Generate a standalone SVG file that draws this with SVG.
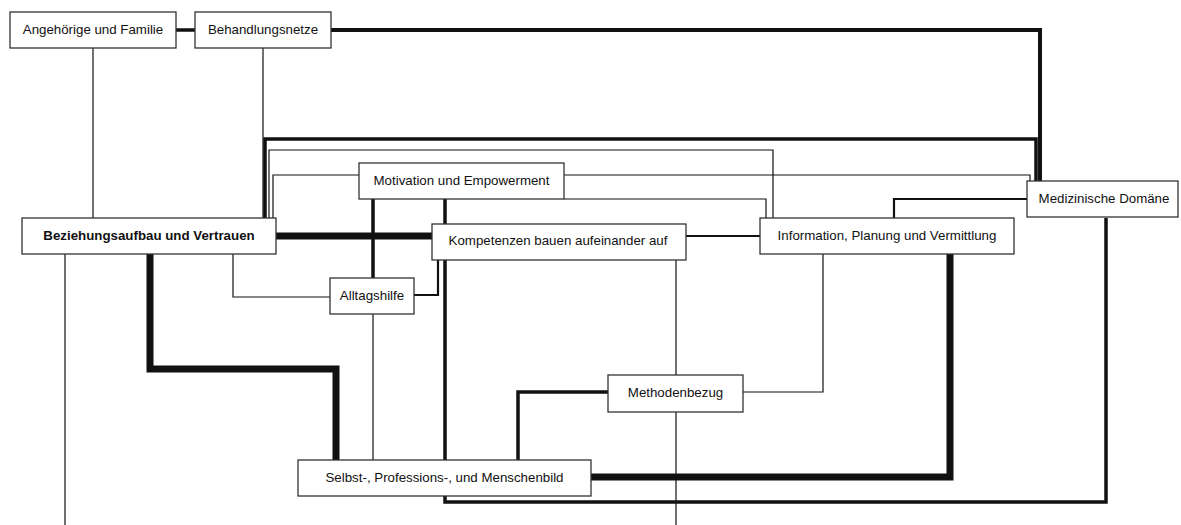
<svg xmlns="http://www.w3.org/2000/svg" width="1181" height="525" viewBox="0 0 1181 525">
<style>
.n rect{fill:#fff;stroke:#333;stroke-width:1.3}
.n text{font-family:"Liberation Sans",Arial,sans-serif;font-size:13.3px;fill:#111;text-anchor:middle}
.n text.b{font-weight:bold}
#edges path{fill:none;stroke:#111;stroke-linejoin:miter;stroke-linecap:butt}
.t1{stroke-width:1.2}
.t2{stroke-width:2.2}
.t3{stroke-width:3.5}
.t4{stroke-width:7}
</style>
<rect width="1181" height="525" fill="#fff"/>
<g id="edges">
<path class="t3" d="M176,30 H195"/>
<path class="t3" d="M331,30 H1040 V181" style="stroke-width:4"/>
<path class="t1" d="M93,48 V218"/>
<path class="t1" d="M263,48 V218"/>
<path class="t3" d="M265,218 V139 H1036 V181"/>
<path class="t1" d="M269,218 V150 H773 V218"/>
<path class="t1" d="M273,218 V175 H359"/>
<path class="t1" d="M564,175 H1030 V181"/>
<path class="t1" d="M564,199 H766 V218"/>
<path class="t3" d="M373,199 V278"/>
<path class="t3" d="M445,199 V502 H1106 V218"/>
<path class="t4" d="M276,236 H432"/>
<path class="t1" d="M233,254 V297 H330"/>
<path class="t2" d="M414,295 H438 V260"/>
<path class="t1" d="M373,314 V460"/>
<path class="t4" d="M150,254 V369 H336 V460"/>
<path class="t1" d="M65,254 V525"/>
<path class="t2" d="M686,236 H760"/>
<path class="t1" d="M676,260 V525"/>
<path class="t1" d="M743,392 H823 V254"/>
<path class="t3" d="M608,392 H518 V460"/>
<path class="t4" d="M591,477 H950 V254"/>
<path class="t2" d="M1027,199 H894 V218"/>
</g>
<g id="n-angehoerige" class="n"><rect x="10" y="12" width="166" height="36"/><text x="93" y="33.5">Angehörige und Familie</text></g>
<g id="n-behandlungsnetze" class="n"><rect x="195" y="12" width="136" height="36"/><text x="263" y="33.5">Behandlungsnetze</text></g>
<g id="n-beziehung" class="n"><rect x="22" y="218" width="254" height="36"/><text class="b" x="149" y="240">Beziehungsaufbau und Vertrauen</text></g>
<g id="n-motivation" class="n"><rect x="359" y="163" width="205" height="36"/><text x="461.5" y="184.5">Motivation und Empowerment</text></g>
<g id="n-kompetenzen" class="n"><rect x="432" y="224" width="254" height="36"/><text x="558" y="245">Kompetenzen bauen aufeinander auf</text></g>
<g id="n-information" class="n"><rect x="760" y="218" width="254" height="36"/><text x="887" y="240">Information, Planung und Vermittlung</text></g>
<g id="n-medizin" class="n"><rect x="1027" y="181" width="151" height="36"/><text x="1104" y="202.5">Medizinische Domäne</text></g>
<g id="n-alltagshilfe" class="n"><rect x="330" y="278" width="84" height="36"/><text x="372" y="299.5">Alltagshilfe</text></g>
<g id="n-methoden" class="n"><rect x="608" y="375" width="135" height="37"/><text x="675.5" y="397">Methodenbezug</text></g>
<g id="n-selbst" class="n"><rect x="298" y="460" width="293" height="36"/><text x="444.5" y="481.5">Selbst-, Professions-, und Menschenbild</text></g>
</svg>
